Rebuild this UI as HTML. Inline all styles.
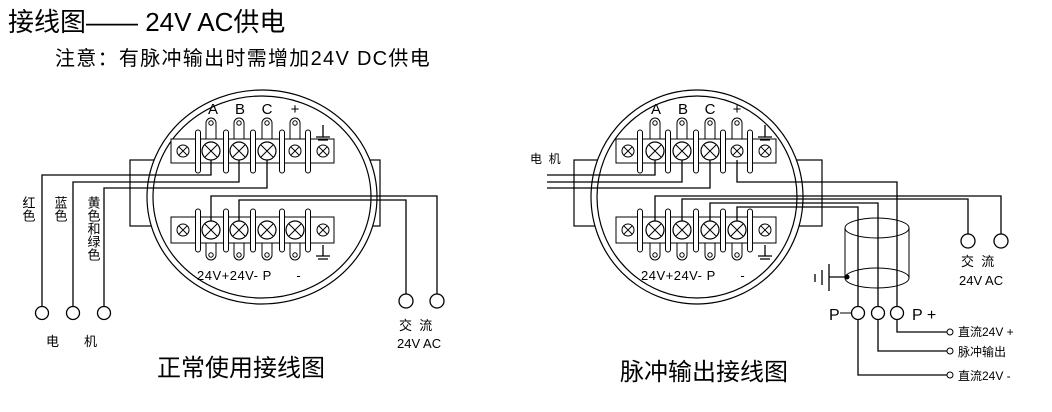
<!DOCTYPE html>
<html><head><meta charset="utf-8"><style>
html,body{margin:0;padding:0;background:#fff;}
svg{display:block;font-family:"Liberation Sans","Noto Sans CJK SC",sans-serif;}
</style></head><body>
<svg width="1052" height="412" viewBox="0 0 1052 412" xmlns="http://www.w3.org/2000/svg">
<defs>
<g id="xs"><circle r="6" fill="#fff" stroke="#000" stroke-width="1"/><path d="M-4,-4L4,4M4,-4L-4,4" stroke="#000" stroke-width="0.9"/></g>
<g id="xb"><circle r="9" fill="#fff" stroke="#000" stroke-width="1.2"/><path d="M-6,-6L6,6M6,-6L-6,6" stroke="#000" stroke-width="1"/></g>
<rect id="sep" x="-2.5" y="-21" width="5" height="43" rx="2.5" fill="#fff" stroke="#000" stroke-width="1"/>
<g id="tabT"><path d="M-5,16V0A5,5 0 0 1 5,0V16" fill="#fff" stroke="#000"/><circle cy="0" r="2.2" fill="#fff" stroke="#000"/></g>
<g id="tabB"><path d="M-5,-12V0A5,5 0 0 0 5,0V-12" fill="#fff" stroke="#000"/><circle cy="0" r="2.2" fill="#fff" stroke="#000"/></g>
</defs>
<text x="8" y="31" font-size="26">接线图—— 24V AC供电</text>
<text x="55" y="65" font-size="20" letter-spacing="1.3">注意：有脉冲输出时需增加24V DC供电</text>

<g fill="none" stroke="#000" stroke-width="1.2">
<rect x="130" y="160" width="26" height="66" fill="#fff"/>
<rect x="356" y="160" width="24" height="66" fill="#fff"/>
<ellipse cx="262" cy="197" rx="115" ry="107" fill="#fff"/>
<ellipse cx="262" cy="197" rx="109" ry="101"/>
</g>
<g stroke="#000" stroke-width="1" fill="#fff">
<use href="#tabT" x="211" y="123"/><use href="#tabT" x="239" y="123"/><use href="#tabT" x="267" y="123"/><use href="#tabT" x="295" y="123"/>
<rect x="171" y="139" width="163" height="24"/>
<use href="#sep" x="198" y="151"/><use href="#sep" x="226" y="151"/><use href="#sep" x="253" y="151"/><use href="#sep" x="282" y="151"/><use href="#sep" x="308" y="151"/>
<use href="#xs" x="183" y="151"/><use href="#xb" x="211" y="151"/><use href="#xb" x="239" y="151"/><use href="#xb" x="267" y="151"/><use href="#xs" x="295" y="151"/><use href="#xs" x="323" y="151"/>
<use href="#tabB" x="211" y="255"/><use href="#tabB" x="239" y="255"/><use href="#tabB" x="267" y="255"/><use href="#tabB" x="295" y="255"/>
<rect x="171" y="217" width="163" height="26"/>
<use href="#sep" x="198" y="230"/><use href="#sep" x="226" y="230"/><use href="#sep" x="253" y="230"/><use href="#sep" x="282" y="230"/><use href="#sep" x="308" y="230"/>
<use href="#xs" x="183" y="230"/><use href="#xb" x="211" y="230"/><use href="#xb" x="239" y="230"/><use href="#xb" x="267" y="230"/><use href="#xb" x="295" y="230"/><use href="#xs" x="323" y="230"/>
</g>
<g stroke="#000" stroke-width="1.3" fill="none">
<path d="M323,125V137M316,137H330M318,140H328"/>
<path d="M323,245V256M316,256H330M318,259H328"/>
<path d="M211,160V175H42V307"/><path d="M239,160V182H73V307"/><path d="M267,160V188H104V307"/>
<path d="M211,221V196H437V294"/><path d="M239,221V200H406V294"/>
<circle cx="42" cy="313" r="6.5"/><circle cx="73" cy="313" r="6.5"/><circle cx="104" cy="313" r="6.5"/>
<circle cx="406" cy="301" r="7"/><circle cx="437" cy="301" r="7"/>
</g>
<g font-size="15" text-anchor="middle">
<text x="213" y="114">A</text><text x="240" y="114">B</text><text x="267" y="114">C</text><text x="295" y="114">+</text>
</g>
<text x="197" y="280" font-size="13" letter-spacing="0.5">24V+24V- P&#160;&#160;&#160;&#160;&#160;&#160;-</text>
<g font-size="13" writing-mode="tb">
<text x="28" y="196">红色</text><text x="60" y="196">蓝色</text><text x="93" y="196">黄色和绿色</text>
</g>
<text x="46" y="346" font-size="13">电</text><text x="84" y="346" font-size="13">机</text>
<text x="399" y="330" font-size="13">交&#160;&#160;流</text>
<text x="397" y="348" font-size="13">24V AC</text>
<text x="157" y="376" font-size="24">正常使用接线图</text>

<g fill="none" stroke="#000" stroke-width="1.2">
<rect x="574" y="160" width="26" height="66" fill="#fff"/>
<rect x="795" y="160" width="27" height="66" fill="#fff"/>
<ellipse cx="697" cy="197" rx="106" ry="107" fill="#fff"/>
<ellipse cx="697" cy="197" rx="100" ry="101"/>
</g>
<g stroke="#000" stroke-width="1" fill="#fff">
<use href="#tabT" x="655" y="123"/><use href="#tabT" x="682" y="123"/><use href="#tabT" x="710" y="123"/><use href="#tabT" x="737" y="123"/>
<rect x="616" y="139" width="160" height="24"/>
<use href="#sep" x="640" y="151"/><use href="#sep" x="668" y="151"/><use href="#sep" x="696" y="151"/><use href="#sep" x="723" y="151"/><use href="#sep" x="750" y="151"/>
<use href="#xs" x="628" y="151"/><use href="#xb" x="655" y="151"/><use href="#xb" x="682" y="151"/><use href="#xb" x="710" y="151"/><use href="#xs" x="737" y="151"/><use href="#xs" x="765" y="151"/>
<use href="#tabB" x="655" y="255"/><use href="#tabB" x="682" y="255"/><use href="#tabB" x="710" y="255"/><use href="#tabB" x="737" y="255"/>
<rect x="616" y="217" width="160" height="26"/>
<use href="#sep" x="640" y="230"/><use href="#sep" x="668" y="230"/><use href="#sep" x="696" y="230"/><use href="#sep" x="723" y="230"/><use href="#sep" x="750" y="230"/>
<use href="#xs" x="628" y="230"/><use href="#xb" x="655" y="230"/><use href="#xb" x="682" y="230"/><use href="#xb" x="710" y="230"/><use href="#xb" x="737" y="230"/><use href="#xs" x="765" y="230"/>
</g>
<g stroke="#000" stroke-width="1.3" fill="none">
<path d="M765,125V137M758,137H772M760,140H770"/>
<path d="M765,245V256M758,256H772M760,259H770"/>
<path d="M547,175H655V160"/><path d="M547,182H682V160"/><path d="M547,188H710V160"/>
<path d="M737,160V182H897V306"/>
<path d="M655,221V196H1001V234"/><path d="M682,221V199H968V234"/>
<path d="M710,221V203H878V306"/><path d="M737,221V207H858V306"/>
<circle cx="968" cy="241" r="7"/><circle cx="1001" cy="241" r="7"/>
<circle cx="858" cy="313" r="6.5"/><circle cx="878" cy="313" r="6.5"/><circle cx="897" cy="313" r="6.5"/>
<ellipse cx="877" cy="228" rx="32" ry="10" stroke-width="1"/>
<ellipse cx="877" cy="278" rx="32" ry="10" stroke-width="1"/>
<path d="M845,228V278M909,228V278" stroke-width="1"/>
<path d="M847,277H829M829,264V291M822,270V285M815,274V282"/>
<path d="M897,320V332H947M878,320V351H947M858,320V375H947"/>
<circle cx="950" cy="332" r="3" stroke-width="1"/><circle cx="950" cy="351" r="3" stroke-width="1"/><circle cx="950" cy="375" r="3" stroke-width="1"/>
<path d="M840,313H851" stroke-width="1"/>
</g>
<circle cx="847" cy="277" r="2.5" fill="#000"/>
<g font-size="15" text-anchor="middle">
<text x="656" y="114">A</text><text x="683" y="114">B</text><text x="710" y="114">C</text><text x="737" y="114">+</text>
</g>
<text x="641" y="280" font-size="13" letter-spacing="0.5">24V+24V- P&#160;&#160;&#160;&#160;&#160;&#160;-</text>
<text x="530" y="163" font-size="12">电&#160;&#160;机</text>
<text x="961" y="266" font-size="13">交&#160;&#160;流</text>
<text x="959" y="285" font-size="13">24V AC</text>
<text x="829" y="320" font-size="16">P</text>
<text x="912" y="320" font-size="16">P +</text>
<text x="958" y="336" font-size="12">直流24V +</text>
<text x="958" y="356" font-size="12">脉冲输出</text>
<text x="958" y="380" font-size="12">直流24V -</text>
<text x="620" y="380" font-size="24">脉冲输出接线图</text>
</svg>
</body></html>
